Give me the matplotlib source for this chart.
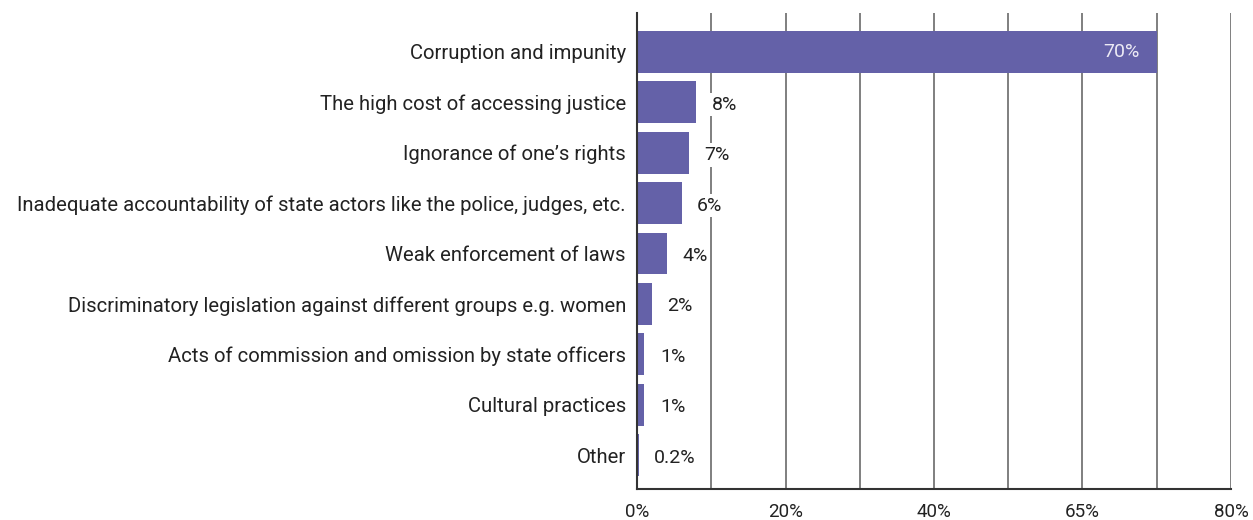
import matplotlib
matplotlib.use("Agg")
import matplotlib.pyplot as plt
from matplotlib.ticker import MultipleLocator

categories = [
    "Corruption and impunity",
    "The high cost of accessing justice",
    "Ignorance of one\u2019s rights",
    "Inadequate accountability of state actors like the police, judges, etc.",
    "Weak enforcement of laws",
    "Discriminatory legislation against different groups e.g. women",
    "Acts of commission and omission by state officers",
    "Cultural practices",
    "Other",
]
values = [70, 8, 7, 6, 4, 2, 1, 1, 0.2]
value_labels = ["70%", "8%", "7%", "6%", "4%", "2%", "1%", "1%", "0.2%"]
tick_positions = [0, 20, 40, 60, 80]
tick_labels = ["0%", "20%", "40%", "65%", "80%"]

plt.rcParams['font.family'] = ['Roboto', 'DejaVu Sans']
bar_color = "#6461A8"

fig = plt.figure(figsize=(12.53, 5.2), dpi=100)
ax = fig.add_axes([0.5084, 0.0596, 0.4740, 0.9154])

y = list(range(len(categories)))
ax.barh(y, values, height=0.83, color=bar_color, zorder=2)
ax.set_ylim(8.67, -0.77)
ax.set_xlim(0, 80)

ax.xaxis.set_minor_locator(MultipleLocator(10))
ax.set_xticks(tick_positions)
ax.set_xticklabels(tick_labels, fontsize=13.5, color="#222222")
ax.grid(axis="x", which="both", color="#6a6a6a", linewidth=1.2, zorder=0)
ax.tick_params(axis="x", which="both", length=0, pad=10)
ax.tick_params(axis="y", length=0, pad=8)
ax.set_yticks(y)
ax.set_yticklabels(categories, fontsize=14.6, color="#222222")

for s in ["top", "right"]:
    ax.spines[s].set_visible(False)
for s in ["left", "bottom"]:
    ax.spines[s].set_color("#333333")
    ax.spines[s].set_linewidth(1.5)

for i, (v, lab) in enumerate(zip(values, value_labels)):
    if v > 30:
        ax.text(v - 2.3, i, lab, ha="right", va="center", fontsize=14,
                color="#ECEAF5", zorder=3)
    else:
        ax.text(v + 2.1, i + 0.05, lab, ha="left", va="center", fontsize=14,
                color="#222222", zorder=3,
                bbox=dict(facecolor="white", edgecolor="none", pad=2))

fig.savefig("out.png", dpi=100)
